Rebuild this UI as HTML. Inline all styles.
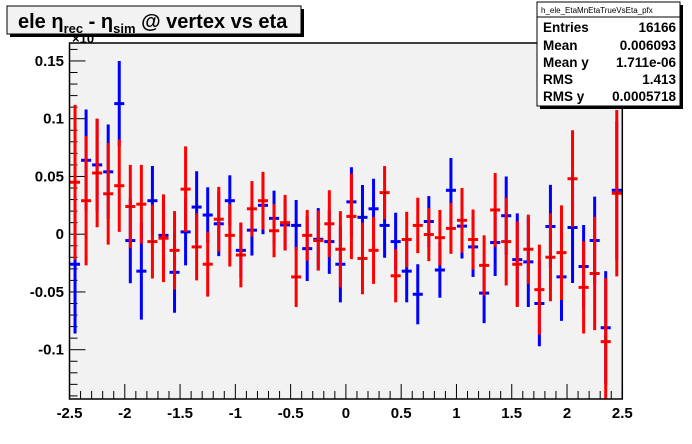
<!DOCTYPE html>
<html><head><meta charset="utf-8"><style>
body{margin:0;background:#fff;}
svg{display:block;font-family:"Liberation Sans",Arial,sans-serif;}
</style></head><body>
<svg id="chart" width="692" height="444" viewBox="0 0 692 444">
<rect x="0" y="0" width="692" height="444" fill="#ffffff"/>
<defs><clipPath id="pc"><rect x="69.5" y="43" width="552.8" height="356"/></clipPath></defs>
<rect x="69.5" y="43" width="552.8" height="356" fill="#f2f2f2"/>
<g id="axes"></g>
<g id="marks" clip-path="url(#pc)"></g>
<rect x="69.5" y="43" width="552.8" height="356" fill="none" stroke="#000" stroke-width="1.5"/>
<text x="72" y="43" font-size="13" font-weight="bold">×10</text>
<g>
<rect x="10" y="9" width="294" height="28" fill="#000"/>
<rect x="7" y="6" width="294" height="28" fill="#f2f2f2" stroke="#000" stroke-width="1"/>
<text x="18" y="28" font-size="20" font-weight="bold">ele η<tspan font-size="13" dy="5">rec</tspan><tspan dy="-5"> - η</tspan><tspan font-size="13" dy="5">sim</tspan><tspan dy="-5"> @ vertex vs eta</tspan></text>
</g>
<g>
<rect x="540" y="5" width="143" height="104" fill="#000"/>
<rect x="537" y="2" width="143" height="104" fill="#fff" stroke="#000" stroke-width="1"/>
<line x1="537" y1="17" x2="680" y2="17" stroke="#000" stroke-width="1"/>
<text x="541" y="13" font-size="8">h_ele_EtaMnEtaTrueVsEta_pfx</text>
<g font-size="13.5" font-weight="bold">
<text x="543" y="32">Entries</text><text x="676" y="32" text-anchor="end">16166</text>
<text x="543" y="50">Mean</text><text x="676" y="50" text-anchor="end">0.006093</text>
<text x="543" y="67">Mean y</text><text x="676" y="67" text-anchor="end">1.711e-06</text>
<text x="543" y="84">RMS</text><text x="676" y="84" text-anchor="end">1.413</text>
<text x="543" y="101">RMS y</text><text x="676" y="101" text-anchor="end">0.0005718</text>
</g></g>
</svg>
<script>
const binCenters=[-2.45,-2.35,-2.25,-2.15,-2.05,-1.95,-1.85,-1.75,-1.65,-1.55,-1.45,-1.35,-1.25,-1.15,-1.05,-0.95,-0.85,-0.75,-0.65,-0.55,-0.45,-0.35,-0.25,-0.15,-0.05,0.05,0.15,0.25,0.35,0.45,0.55,0.65,0.75,0.85,0.95,1.05,1.15,1.25,1.35,1.45,1.55,1.65,1.75,1.85,1.95,2.05,2.15,2.25,2.35,2.45];
const blueMean=[-0.026,0.064,0.060,0.054,0.113,-0.0055,-0.032,0.029,-0.001,-0.033,0.002,0.0235,0.0166,0.009,0.029,-0.014,0.0035,0.025,0.0137,0.008,0.0076,-0.0125,-0.0044,-0.0064,-0.026,0.028,0.0146,0.022,0.0076,-0.0064,-0.032,-0.052,0.011,-0.031,0.038,0.007,-0.011,-0.051,-0.0072,0.016,-0.022,-0.024,-0.060,0.0067,-0.037,0.0058,-0.028,-0.0055,-0.081,0.038];
const blueErr=[0.060,0.044,0.040,0.041,0.037,0.037,0.042,0.030,0.035,0.035,0.029,0.031,0.024,0.028,0.022,0.024,0.022,0.025,0.024,0.022,0.022,0.028,0.027,0.028,0.033,0.030,0.028,0.026,0.028,0.025,0.027,0.026,0.022,0.024,0.028,0.028,0.026,0.026,0.029,0.034,0.040,0.039,0.037,0.036,0.038,0.048,0.036,0.038,0.049,0.060];
const redMean=[0.045,0.029,0.053,0.035,0.042,0.024,0.026,-0.0064,-0.0035,-0.014,0.039,-0.011,-0.026,0.013,-0.001,-0.018,0.022,0.029,0.003,0.010,-0.037,-0.001,-0.0055,0.009,-0.013,0.0154,-0.021,-0.014,0.036,-0.036,-0.0046,0.0076,-0.0003,-0.003,0.005,0.012,-0.0046,-0.027,0.021,-0.0064,-0.026,-0.013,-0.048,-0.020,-0.016,0.048,-0.046,-0.034,-0.093,0.0355];
const redErr=[0.067,0.056,0.047,0.044,0.040,0.036,0.034,0.032,0.038,0.034,0.037,0.029,0.028,0.028,0.027,0.028,0.024,0.025,0.023,0.024,0.026,0.022,0.026,0.029,0.033,0.037,0.031,0.029,0.023,0.023,0.024,0.024,0.023,0.024,0.022,0.028,0.026,0.026,0.032,0.038,0.037,0.030,0.039,0.038,0.041,0.042,0.040,0.049,0.055,0.072];
const xTickLabels=["-2.5","-2","-1.5","-1","-0.5","0","0.5","1","1.5","2","2.5"];
const yTickLabels=["-0.1","-0.05","0","0.05","0.1","0.15"];
const binWidth=0.1;

const NS="http://www.w3.org/2000/svg";
const X0=69.5,X1=622.3,Y0=399,Y1=43;
function xs(v){return X0+(v+2.5)/5*(X1-X0);}
function ys(v){return 234.2-v*1155;}
function mk(tag,attrs,parent){const e=document.createElementNS(NS,tag);for(const k in attrs)e.setAttribute(k,attrs[k]);parent.appendChild(e);return e;}
const axes=document.getElementById('axes'),marks=document.getElementById('marks');

for(let i=0;i<=50;i++){const v=-2.5+i*0.1;const major=i%5===0;
 const t=mk('line',{x1:xs(v),x2:xs(v),y1:Y0,y2:Y0-(major?15:8),stroke:'#000','stroke-width':1},axes);
 
 }
xTickLabels.forEach(s=>{const v=parseFloat(s);
 const t=mk('text',{x:xs(v),y:418,'text-anchor':'middle','font-size':15,'font-weight':'bold'},axes);t.textContent=s;
 
 });
for(let i=-14;i<=16;i++){const v=i*0.01;const y=ys(v);if(y<Y1||y>Y0)continue;const major=i%5===0;
 const t=mk('line',{x1:X0,x2:X0+(major?16:8),y1:y,y2:y,stroke:'#000','stroke-width':1},axes);
 
 }
yTickLabels.forEach(s=>{const v=parseFloat(s);
 const t=mk('text',{x:64,y:ys(v)+5,'text-anchor':'end','font-size':15,'font-weight':'bold'},axes);t.textContent=s;
 
 });

function drawSeries(means,errs,color,name){
 const g=mk('g',{},marks);
 
 
 binCenters.forEach((c,i)=>{const m=means[i],e=errs[i];
  const x=xs(c),hw=(xs(binWidth)-xs(0))/2-0.5;
  const v=mk('line',{x1:x,x2:x,y1:ys(m+e),y2:ys(m-e),stroke:color,'stroke-width':3},g);
  
  
  const h=mk('line',{x1:x-hw,x2:x+hw,y1:ys(m),y2:ys(m),stroke:color,'stroke-width':3},g);
  
  
  const d=mk('rect',{x:x-0.5,y:ys(m)-0.5,width:1,height:1,fill:'#000'},g);
  
  
 });
}
drawSeries(blueMean,blueErr,'#0000ff','blue-series');
drawSeries(redMean,redErr,'#ff0000','red-series');
</script>
</body></html>
